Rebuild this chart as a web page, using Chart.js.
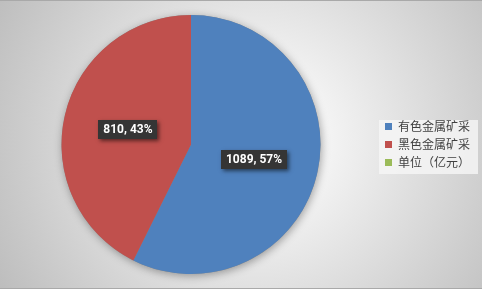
<!DOCTYPE html>
<html>
<head>
<meta charset="utf-8">
<script src="https://cdn.jsdelivr.net/npm/chart.js@4.4.0/dist/chart.umd.min.js"></script>
<style>
  html, body { margin: 0; padding: 0; background: #fff; }
  #wrap { width: 482px; height: 290px; position: relative; }
</style>
</head>
<body>
<div id="wrap"><canvas id="pie"></canvas></div>
<script>
const categories = ['有色金属矿采', '黑色金属矿采', '单位（亿元）'];
const values = [1089, 810, 0];
const pcts = ['57%', '43%', ''];
const colors = ['#4F81BD', '#C0504D', '#9BBB59'];

// gradient backdrop + top/bottom rule
const backdrop = {
  id: 'backdrop',
  beforeDraw(chart) {
    const c = chart.ctx, w = chart.width, h = chart.height;
    c.save();
    const g = c.createRadialGradient(260, 140, 20, 260, 140, 300);
    g.addColorStop(0, '#ffffff');
    g.addColorStop(1, '#bdbdbd');
    c.fillStyle = g;
    c.fillRect(0, 0, w, h);
    c.fillStyle = '#ffffff';
    c.fillRect(0, h - 1, w, 1);
    c.strokeStyle = '#a9a9a9';
    c.lineWidth = 1;
    c.beginPath();
    c.moveTo(0, 0.5); c.lineTo(w, 0.5);
    c.moveTo(0, h - 1.5); c.lineTo(w, h - 1.5);
    c.stroke();
    // legend panel
    const lg = chart.legend;
    if (lg) {
      c.fillStyle = 'rgba(246,246,246,0.8)';
      c.fillRect(lg.left, 120, lg.right - lg.left - 2, 54);
    }
    c.restore();
  },
  beforeDatasetsDraw(chart) {
    const arc = chart.getDatasetMeta(0).data[0];
    if (!arc) return;
    const c = chart.ctx;
    c.save();
    c.shadowColor = 'rgba(0,0,0,0.35)';
    c.shadowBlur = 9;
    c.shadowOffsetX = 1;
    c.shadowOffsetY = 2;
    c.fillStyle = '#888';
    c.beginPath();
    c.arc(arc.x, arc.y, arc.outerRadius, 0, Math.PI * 2);
    c.fill();
    c.restore();
  }
};

// dark callout labels at half radius
const sliceLabels = {
  id: 'sliceLabels',
  afterDatasetsDraw(chart) {
    const c = chart.ctx;
    const meta = chart.getDatasetMeta(0);
    c.save();
    c.font = 'bold 12px Roboto, "Liberation Sans", sans-serif';
    c.textAlign = 'center';
    c.textBaseline = 'middle';
    meta.data.forEach((arc, i) => {
      if (!values[i]) return;
      const mid = (arc.startAngle + arc.endAngle) / 2;
      const r = arc.outerRadius * 0.5;
      const x = arc.x + Math.cos(mid) * r;
      const y = arc.y + Math.sin(mid) * r;
      const txt = values[i] + ', ' + pcts[i];
      const tw = c.measureText(txt).width;
      const bw = tw + 10, bh = 19;
      c.shadowColor = 'rgba(0,0,0,0.55)';
      c.shadowBlur = 4;
      c.shadowOffsetX = 2;
      c.shadowOffsetY = 2;
      c.fillStyle = '#353535';
      c.fillRect(Math.round(x - bw / 2), Math.round(y - bh / 2), Math.round(bw), bh);
      c.shadowColor = 'transparent';
      c.fillStyle = '#ffffff';
      c.fillText(txt, x, y + 0.5);
    });
    c.restore();
  }
};

new Chart(document.getElementById('pie'), {
  type: 'pie',
  data: {
    labels: categories,
    datasets: [{ data: values, backgroundColor: colors, borderWidth: 0 }]
  },
  options: {
    responsive: true,
    maintainAspectRatio: false,
    animation: false,
    layout: { padding: { left: 3, right: 2, top: 15, bottom: 16 } },
    plugins: {
      legend: {
        position: 'right',
        labels: {
          boxWidth: 7,
          boxHeight: 7,
          padding: 6,
          color: '#404040',
          font: { family: '"Noto Sans CJK SC", sans-serif', size: 12 }
        }
      },
      tooltip: { enabled: false }
    }
  },
  plugins: [backdrop, sliceLabels]
});
</script>
</body>
</html>
